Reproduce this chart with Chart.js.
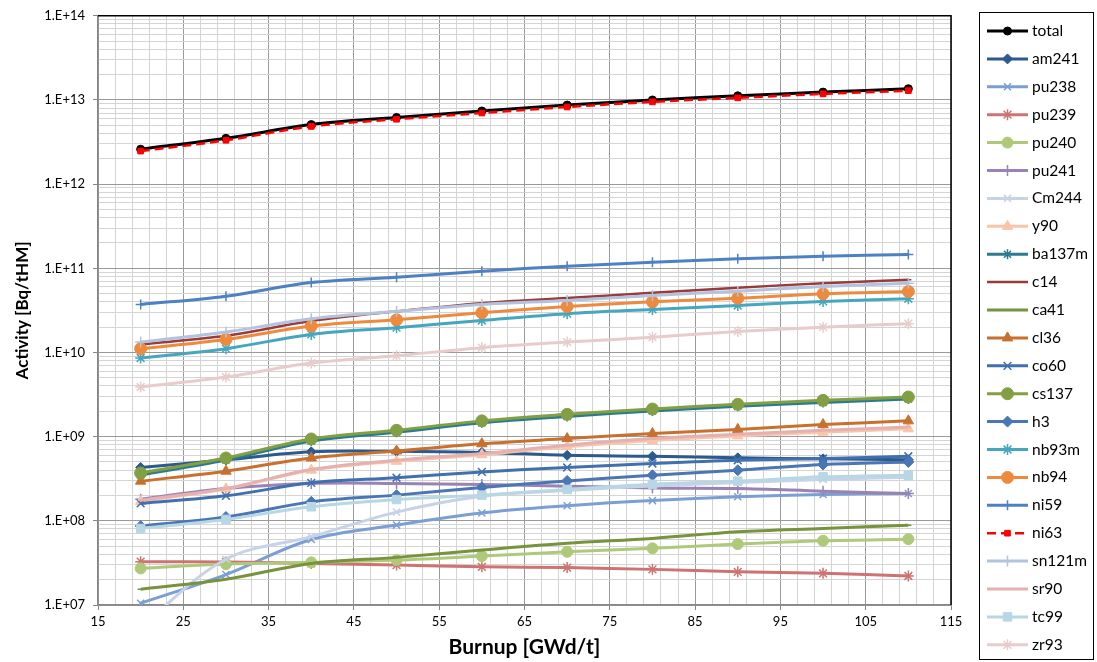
<!DOCTYPE html>
<html>
<head>
<meta charset="utf-8">
<title>Activity vs burnup</title>
<script src="https://cdn.jsdelivr.net/npm/chart.js@4.4.1/dist/chart.umd.min.js"></script>
<style>
  html, body { margin: 0; padding: 0; background: #fff; }
  #wrap { width: 1097px; height: 662px; }
</style>
</head>
<body>
<div id="wrap"><canvas id="chart" width="1097" height="662"></canvas></div>
<script>
// Data (Bq/tHM at each burnup step)
const burnup = [20, 30, 40, 50, 60, 70, 80, 90, 100, 110];

const total  = [2.6e12, 3.5e12, 5.1e12, 6.2e12, 7.4e12, 8.7e12, 1.0e13, 1.12e13, 1.24e13, 1.36e13];
const am241  = [4.3e8, 5.3e8, 6.6e8, 6.7e8, 6.5e8, 6.0e8, 5.85e8, 5.6e8, 5.45e8, 5.3e8];
const pu238  = [1.05e7, 2.3e7, 6.0e7, 8.9e7, 1.24e8, 1.51e8, 1.74e8, 1.93e8, 2.06e8, 2.11e8];
const pu239  = [3.27e7, 3.25e7, 3.12e7, 2.98e7, 2.84e7, 2.78e7, 2.65e7, 2.48e7, 2.38e7, 2.21e7];
const pu240  = [2.72e7, 3.06e7, 3.21e7, 3.42e7, 3.81e7, 4.29e7, 4.71e7, 5.29e7, 5.79e7, 6.06e7];
const pu241  = [1.81e8, 2.42e8, 2.78e8, 2.78e8, 2.7e8, 2.58e8, 2.46e8, 2.42e8, 2.25e8, 2.11e8];
const cm244  = [5.5e6, 3.5e7, 6.5e7, 1.27e8, 1.96e8, 2.3e8, 2.6e8, 2.85e8, 3.1e8, 3.3e8];
const y90    = [1.7e8, 2.4e8, 4.0e8, 5.1e8, 6.1e8, 7.6e8, 9.0e8, 1.02e9, 1.13e9, 1.24e9];
const ba137m = [3.5e8, 5.28e8, 8.88e8, 1.13e9, 1.46e9, 1.74e9, 2.02e9, 2.29e9, 2.55e9, 2.8e9];
const c14    = [1.25e10, 1.58e10, 2.36e10, 3.08e10, 3.85e10, 4.43e10, 5.12e10, 5.87e10, 6.66e10, 7.31e10];
const ca41   = [1.54e7, 2.02e7, 3.12e7, 3.68e7, 4.49e7, 5.4e7, 6.18e7, 7.41e7, 8.13e7, 8.89e7];
const cl36   = [2.96e8, 3.89e8, 5.59e8, 6.76e8, 8.23e8, 9.49e8, 1.09e9, 1.22e9, 1.39e9, 1.54e9];
const co60   = [1.61e8, 1.98e8, 2.83e8, 3.25e8, 3.81e8, 4.3e8, 4.8e8, 5.25e8, 5.5e8, 5.85e8];
const cs137  = [3.7e8, 5.58e8, 9.39e8, 1.19e9, 1.54e9, 1.84e9, 2.13e9, 2.42e9, 2.7e9, 2.96e9];
const h3     = [8.65e7, 1.11e8, 1.68e8, 2.02e8, 2.49e8, 2.98e8, 3.48e8, 3.99e8, 4.67e8, 5.01e8];
const nb93m  = [8.6e9, 1.11e10, 1.64e10, 1.97e10, 2.4e10, 2.89e10, 3.25e10, 3.62e10, 4.04e10, 4.35e10];
const nb94   = [1.11e10, 1.43e10, 2.06e10, 2.45e10, 2.97e10, 3.52e10, 4.01e10, 4.42e10, 4.99e10, 5.31e10];
const ni59   = [3.72e10, 4.67e10, 6.78e10, 7.83e10, 9.24e10, 1.06e11, 1.18e11, 1.3e11, 1.39e11, 1.46e11];
const ni63   = [2.47e12, 3.32e12, 4.85e12, 5.9e12, 7.0e12, 8.25e12, 9.5e12, 1.06e13, 1.18e13, 1.29e13];
const sn121m = [1.33e10, 1.75e10, 2.52e10, 3.08e10, 3.72e10, 4.15e10, 4.76e10, 5.33e10, 6.08e10, 6.66e10];
const sr90   = [1.76e8, 2.42e8, 4.07e8, 5.25e8, 6.31e8, 7.91e8, 9.49e8, 1.07e9, 1.19e9, 1.3e9];
const tc99   = [8.13e7, 1.04e8, 1.47e8, 1.79e8, 2.02e8, 2.36e8, 2.72e8, 2.96e8, 3.33e8, 3.48e8];
const zr93   = [3.89e9, 5.11e9, 7.48e9, 9.16e9, 1.14e10, 1.33e10, 1.52e10, 1.78e10, 2.0e10, 2.2e10];

// axis ticks
const xMajor = [15, 25, 35, 45, 55, 65, 75, 85, 95, 105, 115];
const xMinorPerMajor = 5;
const yDecades = [7, 8, 9, 10, 11, 12, 13, 14];

const FONT = 'Lato, "Open Sans", "DejaVu Sans", sans-serif';
const GRID_MAJOR = '#9a9a9a';
const GRID_MINOR = '#d4d4d4';
const AXIS = '#868686';

// series: label, data, colour, marker, marker radius, line width
function series(label, data, color, marker, radius, width, extra) {
    const filled = ['circle', 'rectRot', 'triangle', 'rect'].includes(marker);
    return Object.assign({
        label: label,
        data: data,
        borderColor: color,
        backgroundColor: color,
        borderWidth: width,
        pointStyle: marker,
        pointRadius: radius,
        pointHoverRadius: radius,
        pointBackgroundColor: color,
        pointBorderColor: color,
        pointBorderWidth: filled ? 1 : 1.5,
        tension: 0.35,
        fill: false
    }, extra || {});
}

const datasets = [
    series('total',  total,  '#000000', 'circle',   4,   3),
    series('am241',  am241,  '#2c5a8c', 'rectRot',  5,   3),
    series('pu238',  pu238,  '#7b9fd4', 'crossRot', 5,   3),
    series('pu239',  pu239,  '#cd7371', 'star',     5.5, 3),
    series('pu240',  pu240,  '#afc97a', 'circle',   5.5, 3),
    series('pu241',  pu241,  '#9983b5', 'cross',    5.5, 3),
    series('Cm244',  cm244,  '#c6d2e8', 'crossRot', 5,   3),
    series('y90',    y90,    '#f9c4a8', 'triangle', 6,   3),
    series('ba137m', ba137m, '#2b7b90', 'star',     5,   3),
    series('c14',    c14,    '#983b3a', 'line',     3,   2.5),
    series('ca41',   ca41,   '#77933c', 'line',     3,   3),
    series('cl36',   cl36,   '#c8712e', 'triangle', 6,   3),
    series('co60',   co60,   '#4170ae', 'crossRot', 5.5, 3),
    series('cs137',  cs137,  '#82a043', 'circle',   6,   3),
    series('h3',     h3,     '#4a76b5', 'rectRot',  5.5, 3),
    series('nb93m',  nb93m,  '#45a6c0', 'star',     5.5, 3),
    series('nb94',   nb94,   '#ee8a3e', 'circle',   6,   3),
    series('ni59',   ni59,   '#4e80c4', 'cross',    5,   3),
    series('ni63',   ni63,   '#ff0000', 'rect',     4,   2.5, { borderDash: [9, 5] }),
    series('sn121m', sn121m, '#b3c3de', 'cross',    5.5, 3),
    series('sr90',   sr90,   '#e4b0b0', 'line',     3,   3),
    series('tc99',   tc99,   '#b7d7e4', 'rect',     6,   3),
    series('zr93',   zr93,   '#e8cccc', 'star',     5.5, 3)
];
// later series painted over earlier ones, as in the spreadsheet
datasets.forEach((d, i) => { d.order = -i; });

// ticks
const xTicks = [];
xMajor.forEach((v, i) => {
    xTicks.push({ value: v, major: true });
    if (i < xMajor.length - 1) {
        const step = (xMajor[i + 1] - v) / xMinorPerMajor;
        for (let k = 1; k < xMinorPerMajor; k++) xTicks.push({ value: v + k * step, major: false });
    }
});
const yTicks = [];
yDecades.forEach((e, i) => {
    const base = Math.pow(10, e);
    yTicks.push({ value: base, major: true });
    if (i < yDecades.length - 1) {
        for (let m = 2; m <= 9; m++) yTicks.push({ value: m * base, major: false });
    }
});

function expLabel(v) {
    const e = Math.round(Math.log10(v));
    return '1.E+' + (e < 10 ? '0' + e : e);
}

// black frame on top/right of plot area
const plotFrame = {
    id: 'plotFrame',
    beforeDatasetsDraw(chart) {
        const { ctx, chartArea: a } = chart;
        ctx.save();
        ctx.strokeStyle = '#000';
        ctx.lineWidth = 1.5;
        ctx.beginPath();
        ctx.moveTo(a.left, a.top);
        ctx.lineTo(a.right, a.top);
        ctx.lineTo(a.right, a.bottom);
        ctx.stroke();
        ctx.restore();
    }
};

// boxed legend with line + marker, like the spreadsheet legend
const boxLegend = {
    id: 'boxLegend',
    afterDraw(chart) {
        const ctx = chart.ctx;
        const x0 = chart.chartArea.right + 28;
        const y0 = 12, w = 114, h = 647, rowH = 27.9;
        ctx.save();
        ctx.strokeStyle = '#000';
        ctx.lineWidth = 1;
        ctx.strokeRect(x0 + 0.5, y0 + 0.5, w, h);
        chart.data.datasets.forEach((d, i) => {
            const y = y0 + 19 + i * rowH;
            ctx.strokeStyle = d.borderColor;
            ctx.lineWidth = d.borderWidth;
            ctx.setLineDash(d.borderDash || []);
            ctx.beginPath();
            ctx.moveTo(x0 + 8, y);
            ctx.lineTo(x0 + 49, y);
            ctx.stroke();
            ctx.setLineDash([]);
            ctx.fillStyle = d.pointBackgroundColor;
            ctx.strokeStyle = d.pointBorderColor;
            ctx.lineWidth = d.pointBorderWidth;
            Chart.helpers.drawPoint(ctx, {
                pointStyle: d.pointStyle, radius: d.pointRadius,
                borderWidth: d.pointBorderWidth, rotation: 0
            }, x0 + 28.5, y);
            ctx.fillStyle = '#000';
            ctx.font = '15.5px ' + FONT;
            ctx.textBaseline = 'middle';
            ctx.textAlign = 'left';
            ctx.fillText(d.label, x0 + 53, y);
        });
        ctx.restore();
    }
};

new Chart(document.getElementById('chart'), {
    type: 'line',
    data: { labels: burnup, datasets: datasets.map(d => Object.assign({}, d, {
        data: d.data.map((v, i) => ({ x: burnup[i], y: v }))
    })) },
    plugins: [plotFrame, boxLegend],
    options: {
        responsive: false,
        animation: false,
        devicePixelRatio: 1,
        layout: { padding: { left: 12, top: 15, right: 146, bottom: 0 } },
        plugins: {
            legend: { display: false },
            tooltip: { enabled: false }
        },
        scales: {
            x: {
                type: 'linear',
                min: 15,
                max: 115,
                afterBuildTicks: s => { s.ticks = xTicks.map(t => Object.assign({}, t)); },
                afterFit: s => { s.height = 57; },
                ticks: {
                    autoSkip: false,
                    maxRotation: 0,
                    padding: 4,
                    color: '#000',
                    font: { family: FONT, size: 13 },
                    callback: (v, i, ticks) => ticks[i].major ? String(v) : ''
                },
                grid: {
                    color: c => (c.tick && c.tick.major) ? GRID_MAJOR : GRID_MINOR,
                    tickColor: c => (c.tick && c.tick.major) ? AXIS : 'rgba(0,0,0,0)',
                    tickLength: 5,
                    lineWidth: 1
                },
                border: { color: AXIS, width: 1.5 },
                title: {
                    display: true,
                    text: 'Burnup [GWd/t]',
                    color: '#000',
                    font: { family: FONT, size: 21, weight: 'bold' },
                    padding: { top: 0, bottom: 2 }
                }
            },
            y: {
                type: 'logarithmic',
                min: 1e7,
                max: 1e14,
                afterBuildTicks: s => { s.ticks = yTicks.map(t => Object.assign({}, t)); },
                afterFit: s => { s.width = 86; },
                ticks: {
                    autoSkip: false,
                    padding: 8,
                    color: '#000',
                    font: { family: FONT, size: 13 },
                    callback: (v, i, ticks) => ticks[i].major ? expLabel(v) : ''
                },
                grid: {
                    color: c => (c.tick && c.tick.major) ? GRID_MAJOR : GRID_MINOR,
                    tickColor: c => (c.tick && c.tick.major) ? AXIS : 'rgba(0,0,0,0)',
                    tickLength: 5,
                    lineWidth: 1
                },
                border: { color: AXIS, width: 1.5 },
                title: {
                    display: true,
                    text: 'Activity [Bq/tHM]',
                    color: '#000',
                    font: { family: FONT, size: 17, weight: 'bold' },
                    padding: 0
                }
            }
        }
    }
});
</script>
</body>
</html>
